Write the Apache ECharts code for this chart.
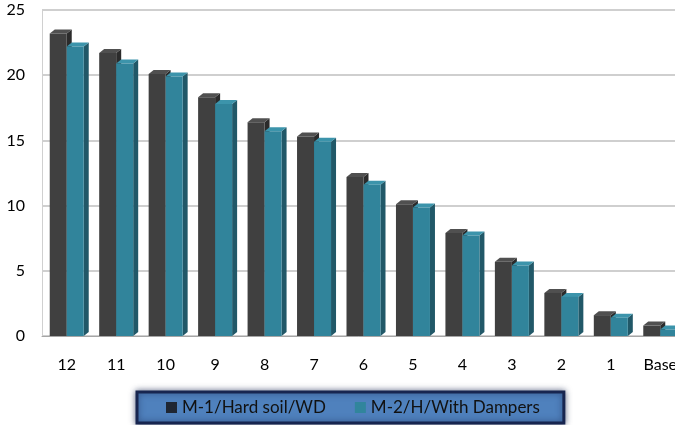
<!DOCTYPE html>
<html>
<head>
<meta charset="utf-8">
<script src="https://cdn.jsdelivr.net/npm/echarts@6/dist/echarts.min.js"></script>
<style>
  html, body { margin: 0; padding: 0; background: #fff; }
  #chart { width: 675px; height: 425px; }
</style>
</head>
<body>
<div id="chart"></div>
<script>
// storeys, top to base
var categories = ['12', '11', '10', '9', '8', '7', '6', '5', '4', '3', '2', '1', 'Base'];
var hardSoilWD = [23.2, 21.7, 20.1, 18.3, 16.4, 15.3, 12.2, 10.1, 7.9, 5.7, 3.3, 1.6, 0.8];
var withDampers = [22.2, 20.9, 19.9, 17.8, 15.7, 14.9, 11.6, 9.85, 7.7, 5.4, 3.0, 1.4, 0.5];
var seriesNames = ['M-1/Hard soil/WD', 'M-2/H/With Dampers'];

// 3d-ish column: front face, right side, top cap
function column(offset, front, side, cap) {
  return function (params, api) {
    var i = api.value(0);
    var base = api.coord([i, 0]);
    var top = api.coord([i, api.value(1)]);
    var x = base[0] + offset;
    var w = 17, dx = 5, dy = 4;
    return {
      type: 'group',
      children: [
        {
          type: 'polygon',
          shape: { points: [[x + w, top[1]], [x + w + dx, top[1] - dy], [x + w + dx, base[1] - dy], [x + w, base[1]]] },
          style: { fill: side }
        },
        {
          type: 'polygon',
          shape: { points: [[x, top[1]], [x + dx, top[1] - dy], [x + w + dx, top[1] - dy], [x + w, top[1]]] },
          style: { fill: cap }
        },
        {
          type: 'rect',
          shape: { x: x, y: top[1], width: w, height: base[1] - top[1] },
          style: { fill: front }
        }
      ]
    };
  };
}

var chart = echarts.init(document.getElementById('chart'));
chart.setOption({
  backgroundColor: '#fff',
  animation: false,
  textStyle: { fontFamily: 'Lato' },
  grid: { left: 42, top: 10, right: -10, bottom: 89, outerBoundsMode: 'none', containLabel: false },
  legend: {
    left: 137,
    bottom: 2,
    data: seriesNames,
    icon: 'rect',
    itemWidth: 11,
    itemHeight: 11,
    itemGap: 29,
    backgroundColor: '#4f81bd',
    borderColor: '#17254f',
    borderWidth: 3,
    shadowColor: 'rgba(23,37,79,0.6)',
    shadowBlur: 6,
    padding: [7, 24, 7, 29],
    textStyle: { color: '#111', fontSize: 17, fontFamily: 'Lato' }
  },
  xAxis: {
    type: 'category',
    data: categories,
    axisTick: { show: false },
    axisLine: { lineStyle: { color: '#a6a6a6' } },
    axisLabel: { color: '#000', fontSize: 16, margin: 21 }
  },
  yAxis: {
    type: 'value',
    min: 0,
    max: 25,
    interval: 5,
    axisLine: { show: true, lineStyle: { color: '#d0d0d0' } },
    axisTick: { show: false },
    splitLine: { lineStyle: { color: '#bfbfbf', width: 1.5 } },
    axisLabel: { color: '#000', fontSize: 16, margin: 17, padding: [12, 0, 0, 0] }
  },
  series: [
    {
      name: seriesNames[0],
      type: 'custom',
      itemStyle: { color: '#1f2632' },
      renderItem: column(-17, '#404040', '#2b2b2b', '#505050'),
      data: hardSoilWD.map(function (v, i) { return [i, v]; })
    },
    {
      name: seriesNames[1],
      type: 'custom',
      itemStyle: { color: '#31859c' },
      renderItem: column(0, '#31849b', '#215868', '#3c94ab'),
      data: withDampers.map(function (v, i) { return [i, v]; })
    }
  ]
});
</script>
</body>
</html>
